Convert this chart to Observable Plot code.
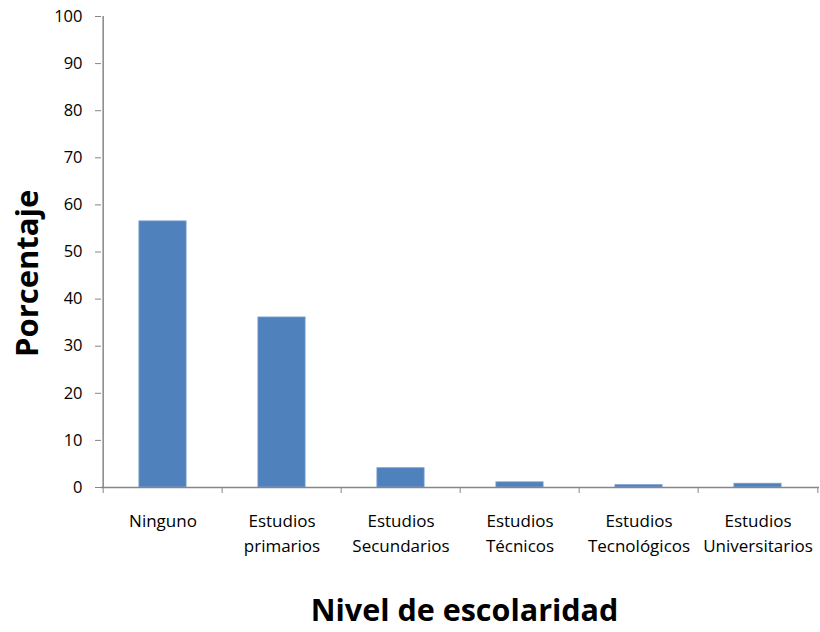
<!DOCTYPE html>
<html>
<head>
<meta charset="utf-8">
<script src="https://cdn.jsdelivr.net/npm/d3@7"></script>
<script src="https://cdn.jsdelivr.net/npm/@observablehq/plot@0.6"></script>
<style>
  html, body { margin: 0; padding: 0; background: #fff; }
  #chart svg { display: block; }
</style>
</head>
<body>
<div id="chart"></div>
<script>
// Nivel de escolaridad (porcentaje de la población)
const categorias = [
  "Ninguno",
  "Estudios primarios",
  "Estudios Secundarios",
  "Estudios Técnicos",
  "Estudios Tecnológicos",
  "Estudios Universitarios"
];
const porcentajes = [56.5, 36.1, 4.1, 1.1, 0.5, 0.8];
const yTicks = [0, 10, 20, 30, 40, 50, 60, 70, 80, 90, 100];

const datos = categorias.map((c, i) => ({categoria: c, valor: porcentajes[i]}));

const width = 820, height = 632;
const marginLeft = 101, marginRight = 1, marginTop = 16, marginBottom = 145;
const paso = (width - marginLeft - marginRight) / categorias.length;
const axisColor = "#868686";
const font = "'Open Sans', sans-serif";

const chart = Plot.plot({
  width, height, marginLeft, marginRight, marginTop, marginBottom,
  style: {fontFamily: font, background: "#fff", color: "#000"},
  x: {type: "band", domain: categorias, padding: 0},
  y: {domain: [0, 100]},
  marks: [
    // barras
    Plot.barY(datos, {
      x: "categoria", y: "valor",
      fill: "#4F81BD", stroke: "#7A9FD0", strokeWidth: 0.8,
      insetLeft: paso * 0.3, insetRight: paso * 0.3
    }),
    // eje Y
    Plot.axisY({
      ticks: yTicks, tickSize: 6, tickPadding: 13,
      stroke: axisColor, fontSize: 16.5, color: "#000", label: null
    }),
    Plot.ruleX(categorias.slice(0, 1), {
      x: d => d, dx: -paso / 2, y1: 0, y2: 100,
      stroke: axisColor, strokeWidth: 1.5
    }),
    // eje X: línea base, marcas en los bordes y etiquetas centradas
    Plot.ruleY([0], {stroke: axisColor, strokeWidth: 1.5}),
    Plot.axisX({
      ticks: categorias, tickSize: 6, tickFormat: () => "",
      dx: -paso / 2, stroke: axisColor, label: null
    }),
    Plot.axisX({
      ticks: categorias.slice(-1), tickSize: 6, tickFormat: () => "",
      dx: paso / 2, stroke: axisColor, label: null
    }),
    Plot.axisX({
      ticks: categorias, tickSize: 0, tickPadding: 22,
      tickFormat: d => d.replace(" ", "\n"),
      fontSize: 17, lineHeight: 1.45, fill: "#000", label: null
    }),
    // títulos de los ejes
    Plot.text(["Porcentaje"], {
      frameAnchor: "left", text: d => d, rotate: -90,
      dx: -73, dy: 105, fontSize: 31, fontWeight: "bold", fill: "#000"
    }),
    Plot.text(["Nivel de escolaridad"], {
      frameAnchor: "bottom", text: d => d,
      dy: 133, dx: 4, fontSize: 30.5, fontWeight: "bold", fill: "#000"
    })
  ]
});

document.getElementById("chart").append(chart);
</script>
</body>
</html>
